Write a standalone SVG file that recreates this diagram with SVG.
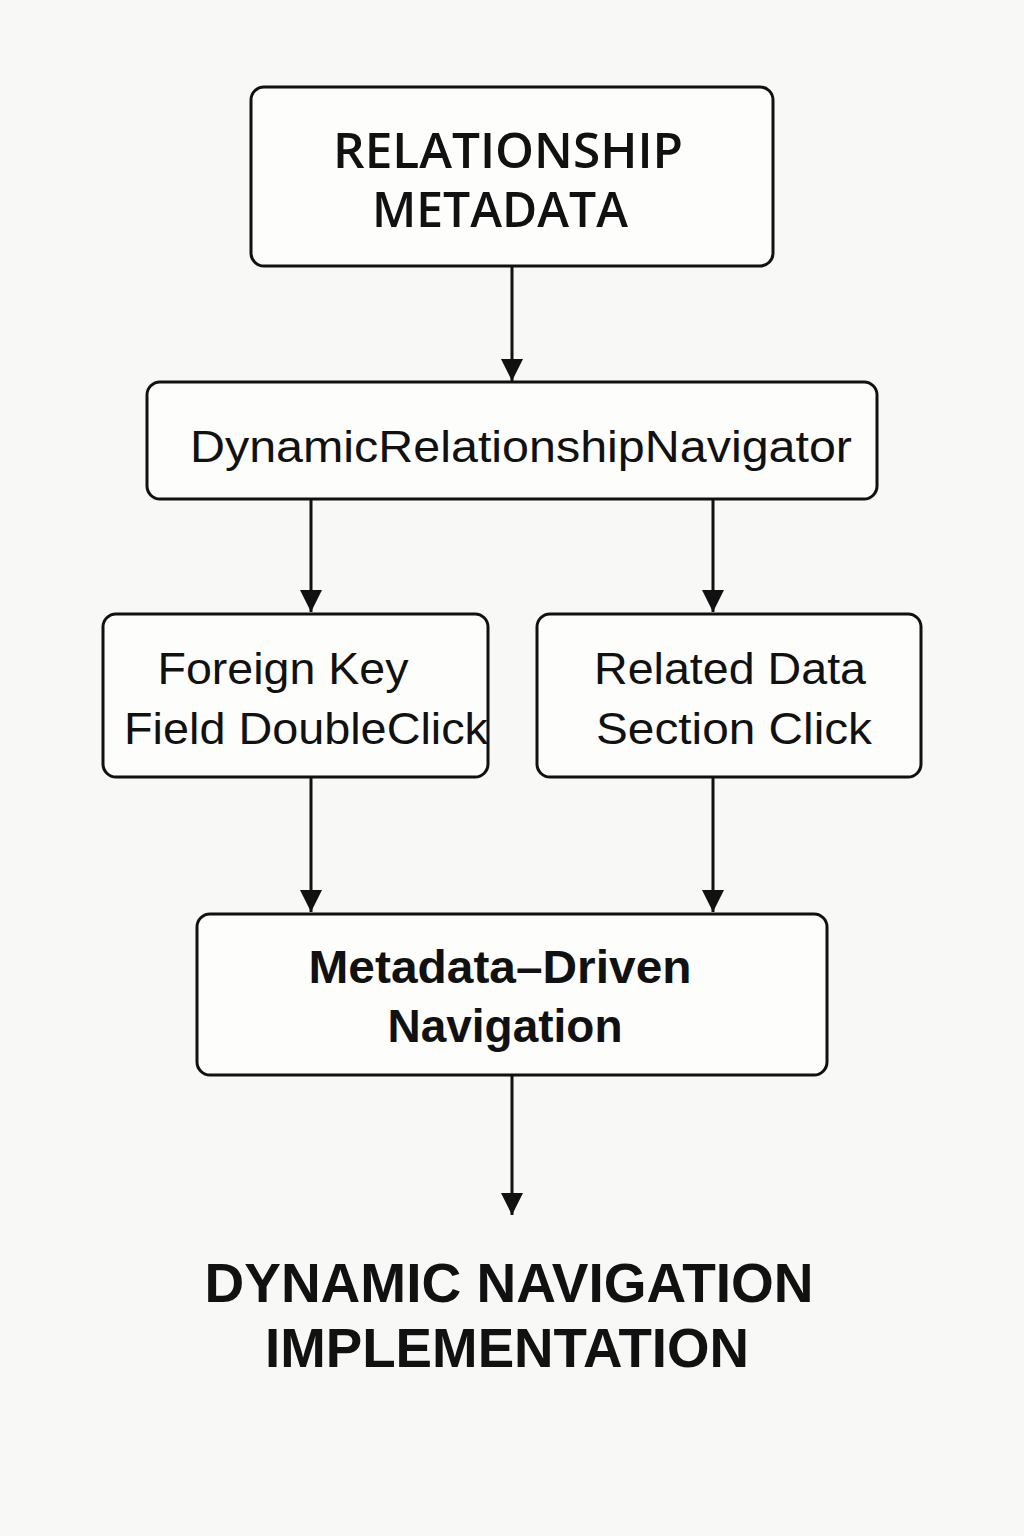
<svg xmlns="http://www.w3.org/2000/svg" width="1024" height="1536" viewBox="0 0 1024 1536">
<style>
.box{fill:#fdfdfc;stroke:#111;stroke-width:3}
.t{font-family:"Liberation Sans","Noto Sans",sans-serif;fill:#111;text-anchor:middle}
.semi{font-family:"Open Sans","Liberation Sans",sans-serif;font-weight:600}
.edge{stroke:#111;stroke-width:3;fill:none}
</style>
<defs>
<marker id="a" viewBox="0 0 22 24" refX="22" refY="12" markerWidth="22" markerHeight="24" markerUnits="userSpaceOnUse" orient="auto">
<path d="M0,1 L22,12 L0,23 z" fill="#111"/>
</marker>
</defs>
<rect width="1024" height="1536" fill="#f8f8f6"/>
<g id="connectors">
<line class="edge" x1="512" y1="266" x2="512" y2="381" marker-end="url(#a)"/>
<line class="edge" x1="311" y1="499" x2="311" y2="612" marker-end="url(#a)"/>
<line class="edge" x1="713" y1="499" x2="713" y2="612" marker-end="url(#a)"/>
<line class="edge" x1="311" y1="777" x2="311" y2="912" marker-end="url(#a)"/>
<line class="edge" x1="713" y1="777" x2="713" y2="912" marker-end="url(#a)"/>
<line class="edge" x1="512" y1="1075" x2="512" y2="1215" marker-end="url(#a)"/>
</g>
<g id="relationship-metadata">
<rect class="box" x="251" y="87" width="522" height="179" rx="13"/>
<text class="t semi" x="508" y="168" font-size="48" textLength="350" lengthAdjust="spacingAndGlyphs">RELATIONSHIP</text>
<text class="t semi" x="500" y="227" font-size="48" textLength="256" lengthAdjust="spacingAndGlyphs">METADATA</text>
</g>
<g id="navigator">
<rect class="box" x="147" y="382" width="730" height="117" rx="13"/>
<text class="t" x="521" y="462" font-size="44" textLength="662" lengthAdjust="spacingAndGlyphs">DynamicRelationshipNavigator</text>
</g>
<g id="foreign-key">
<rect class="box" x="103" y="614" width="385" height="163" rx="13"/>
<text class="t" x="283" y="684" font-size="44" textLength="251" lengthAdjust="spacingAndGlyphs">Foreign Key</text>
<text class="t" x="306" y="744" font-size="44" textLength="364" lengthAdjust="spacingAndGlyphs">Field DoubleClick</text>
</g>
<g id="related-data">
<rect class="box" x="537" y="614" width="384" height="163" rx="13"/>
<text class="t" x="730" y="684" font-size="44" textLength="272" lengthAdjust="spacingAndGlyphs">Related Data</text>
<text class="t" x="734" y="744" font-size="44" textLength="276" lengthAdjust="spacingAndGlyphs">Section Click</text>
</g>
<g id="metadata-driven">
<rect class="box" x="197" y="914" width="630" height="161" rx="13"/>
<text class="t" x="500" y="983" font-size="46" font-weight="bold" textLength="383" lengthAdjust="spacingAndGlyphs">Metadata–Driven</text>
<text class="t" x="505" y="1042" font-size="46" font-weight="bold" textLength="235" lengthAdjust="spacingAndGlyphs">Navigation</text>
</g>
<g id="title">
<text class="t" x="509" y="1302" font-size="55" font-weight="bold" textLength="609" lengthAdjust="spacingAndGlyphs">DYNAMIC NAVIGATION</text>
<text class="t" x="507" y="1367" font-size="55" font-weight="bold" textLength="484" lengthAdjust="spacingAndGlyphs">IMPLEMENTATION</text>
</g>
</svg>
